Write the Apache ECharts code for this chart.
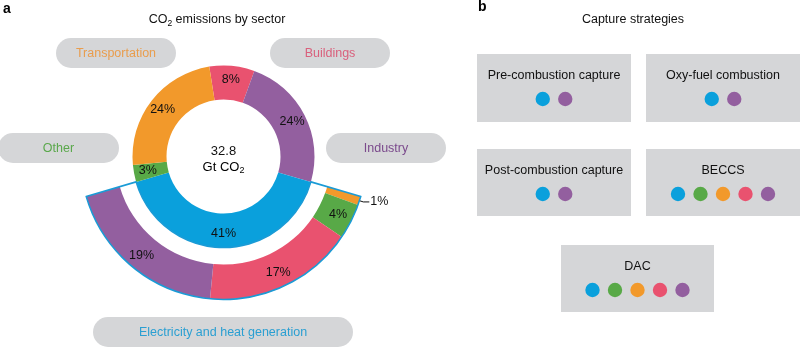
<!DOCTYPE html>
<html>
<head>
<meta charset="utf-8">
<script src="https://cdn.jsdelivr.net/npm/echarts@6/dist/echarts.min.js"></script>
<style>
html,body{margin:0;padding:0;background:#fff;}
#chart{width:800px;height:347px;}
</style>
</head>
<body>
<div id="chart"></div>
<script>
// ---- Data ----
const sectorNames = ['Buildings', 'Industry', 'Electricity and heat generation', 'Other', 'Transportation'];
const sectorShares = [8, 24, 41, 3, 24];
const elecNames = ['Transportation', 'Other', 'Buildings', 'Industry'];
const elecShares = [1, 4, 17, 19];
const totalValue = '32.8';
const totalUnit = 'Gt CO';
const strategyNames = ['Pre-combustion capture', 'Oxy-fuel combustion', 'Post-combustion capture', 'BECCS', 'DAC'];
const strategySectors = [
  ['Electricity and heat generation', 'Industry'],
  ['Electricity and heat generation', 'Industry'],
  ['Electricity and heat generation', 'Industry'],
  ['Electricity and heat generation', 'Other', 'Transportation', 'Buildings', 'Industry'],
  ['Electricity and heat generation', 'Other', 'Transportation', 'Buildings', 'Industry']
];

// ---- Styles ----
const sectorColor = {
  'Electricity and heat generation': '#0aa0dc',
  'Industry': '#935f9f',
  'Buildings': '#e9526f',
  'Transportation': '#f2992b',
  'Other': '#58a947'
};
const pillTextColor = {
  'Electricity and heat generation': '#2a9fd2',
  'Industry': '#7b4a8c',
  'Buildings': '#d9607c',
  'Transportation': '#e99d4d',
  'Other': '#5aa84b'
};
const FONT = 'Liberation Sans, Arial, Helvetica, sans-serif';
const GRAY = '#d5d6d8';
const cx = 223.5, cy = 156.5;

const chart = echarts.init(document.getElementById('chart'), null, {renderer: 'canvas'});

const startInner = 99;
const elecStart = startInner - (sectorShares[0] + sectorShares[1]) * 3.6;
const elecTotal = elecShares.reduce((a, b) => a + b, 0);

const graphics = [];
// panel letters and titles
graphics.push({type: 'text', left: 3, top: 2, style: {text: 'a', font: 'bold 14px ' + FONT, fill: '#000'}});
graphics.push({type: 'text', left: 478, top: 0, style: {text: 'b', font: 'bold 14px ' + FONT, fill: '#000'}});
graphics.push({type: 'text', x: 217, y: 20, style: {
  text: '{n|CO}{s|2}{n| emissions by sector}', align: 'center', verticalAlign: 'middle',
  rich: {n: {fontSize: 12.5, fontFamily: FONT, fill: '#111', color: '#111'}, s: {fontSize: 8.5, fontFamily: FONT, color: '#111', padding: [7, 0, 0, 0]}}
}});
graphics.push({type: 'text', x: 633, y: 20, style: {text: 'Capture strategies', align: 'center', verticalAlign: 'middle', font: '12.5px ' + FONT, fill: '#111'}});

// center total
graphics.push({type: 'text', x: cx, y: 151, z: 20, style: {text: totalValue, align: 'center', verticalAlign: 'middle', font: '13px ' + FONT, fill: '#111'}});
graphics.push({type: 'text', x: cx, y: 167, z: 20, style: {
  text: '{n|' + totalUnit + '}{s|2}', align: 'center', verticalAlign: 'middle',
  rich: {n: {fontSize: 13, fontFamily: FONT, color: '#111'}, s: {fontSize: 9, fontFamily: FONT, color: '#111', padding: [8, 0, 0, 0]}}
}});

// sector pills (layout)
const pills = [
  {name: 'Transportation', x: 56, y: 38, w: 120, h: 30},
  {name: 'Buildings', x: 270, y: 38, w: 120, h: 30},
  {name: 'Other', x: -2, y: 133, w: 121, h: 30},
  {name: 'Industry', x: 326, y: 133, w: 120, h: 30},
  {name: 'Electricity and heat generation', x: 93, y: 317, w: 260, h: 30}
];
pills.forEach(p => {
  graphics.push({type: 'rect', shape: {x: p.x, y: p.y, width: p.w, height: p.h, r: 15}, style: {fill: GRAY}, z: 1});
  graphics.push({type: 'text', x: p.x + p.w / 2, y: p.y + p.h / 2 + 0.5, z: 2, style: {text: p.name, align: 'center', verticalAlign: 'middle', font: '12.5px ' + FONT, fill: pillTextColor[p.name]}});
});

// strategy boxes (layout)
const boxes = [
  {x: 477, y: 54, w: 154, h: 68},
  {x: 646, y: 54, w: 154, h: 68},
  {x: 477, y: 149, w: 154, h: 67},
  {x: 646, y: 149, w: 154, h: 67},
  {x: 561, y: 245, w: 153, h: 67}
];
strategyNames.forEach((name, i) => {
  const b = boxes[i];
  graphics.push({type: 'rect', shape: {x: b.x, y: b.y, width: b.w, height: b.h}, style: {fill: GRAY}, z: 1});
  graphics.push({type: 'text', x: b.x + b.w / 2, y: b.y + 22, z: 2, style: {text: name, align: 'center', verticalAlign: 'middle', font: '12.5px ' + FONT, fill: '#111'}});
  const list = strategySectors[i];
  const n = list.length, sp = 22.5;
  list.forEach((s, k) => {
    graphics.push({type: 'circle', z: 2, shape: {cx: b.x + b.w / 2 + (k - (n - 1) / 2) * sp, cy: b.y + 45, r: 7.2}, style: {fill: sectorColor[s]}});
  });
});

const labelStyle = {fontSize: 12.5, fontFamily: FONT, color: '#111'};

const option = {
  backgroundColor: '#fff',
  animation: false,
  graphic: graphics,
  series: [
    {
      type: 'pie', center: [cx, cy], radius: [57, 91], startAngle: startInner, clockwise: true,
      silent: true, z: 5,
      label: Object.assign({position: 'inside', formatter: '{c}%'}, labelStyle),
      labelLine: {show: false},
      itemStyle: {borderWidth: 0},
      data: sectorNames.map((n, i) => ({name: n, value: sectorShares[i], itemStyle: {color: sectorColor[n]}}))
    },
    {
      type: 'pie', center: [cx, cy], radius: [108, 143], startAngle: elecStart, clockwise: true,
      silent: true, z: 5, avoidLabelOverlap: false,
      label: Object.assign({position: 'inside', formatter: '{c}%'}, labelStyle),
      itemStyle: {borderWidth: 0},
      data: elecNames.map((n, i) => {
        const d = {name: n, value: elecShares[i], itemStyle: {color: sectorColor[n]}};
        if (elecShares[i] < 2) {
          d.label = Object.assign({show: true, position: 'outside', formatter: '{c}%', distanceToLabelLine: 1}, labelStyle);
          d.labelLine = {show: true, length: 4, length2: 6, lineStyle: {color: '#111', width: 1}};
        }
        return d;
      }).concat([{name: 'rest', value: 100 - elecTotal, itemStyle: {color: 'rgba(0,0,0,0)'}, label: {show: false}, labelLine: {show: false}}])
    },
    {
      type: 'pie', center: [cx, cy], radius: [91, 143], startAngle: elecStart, clockwise: true,
      silent: true, z: 6, label: {show: false}, labelLine: {show: false},
      data: [
        {value: elecTotal, itemStyle: {color: 'rgba(0,0,0,0)', borderColor: '#1a9bd6', borderWidth: 1.6}},
        {value: 100 - elecTotal, itemStyle: {color: 'rgba(0,0,0,0)', borderWidth: 0}}
      ]
    }
  ]
};
chart.setOption(option);
</script>
</body>
</html>
